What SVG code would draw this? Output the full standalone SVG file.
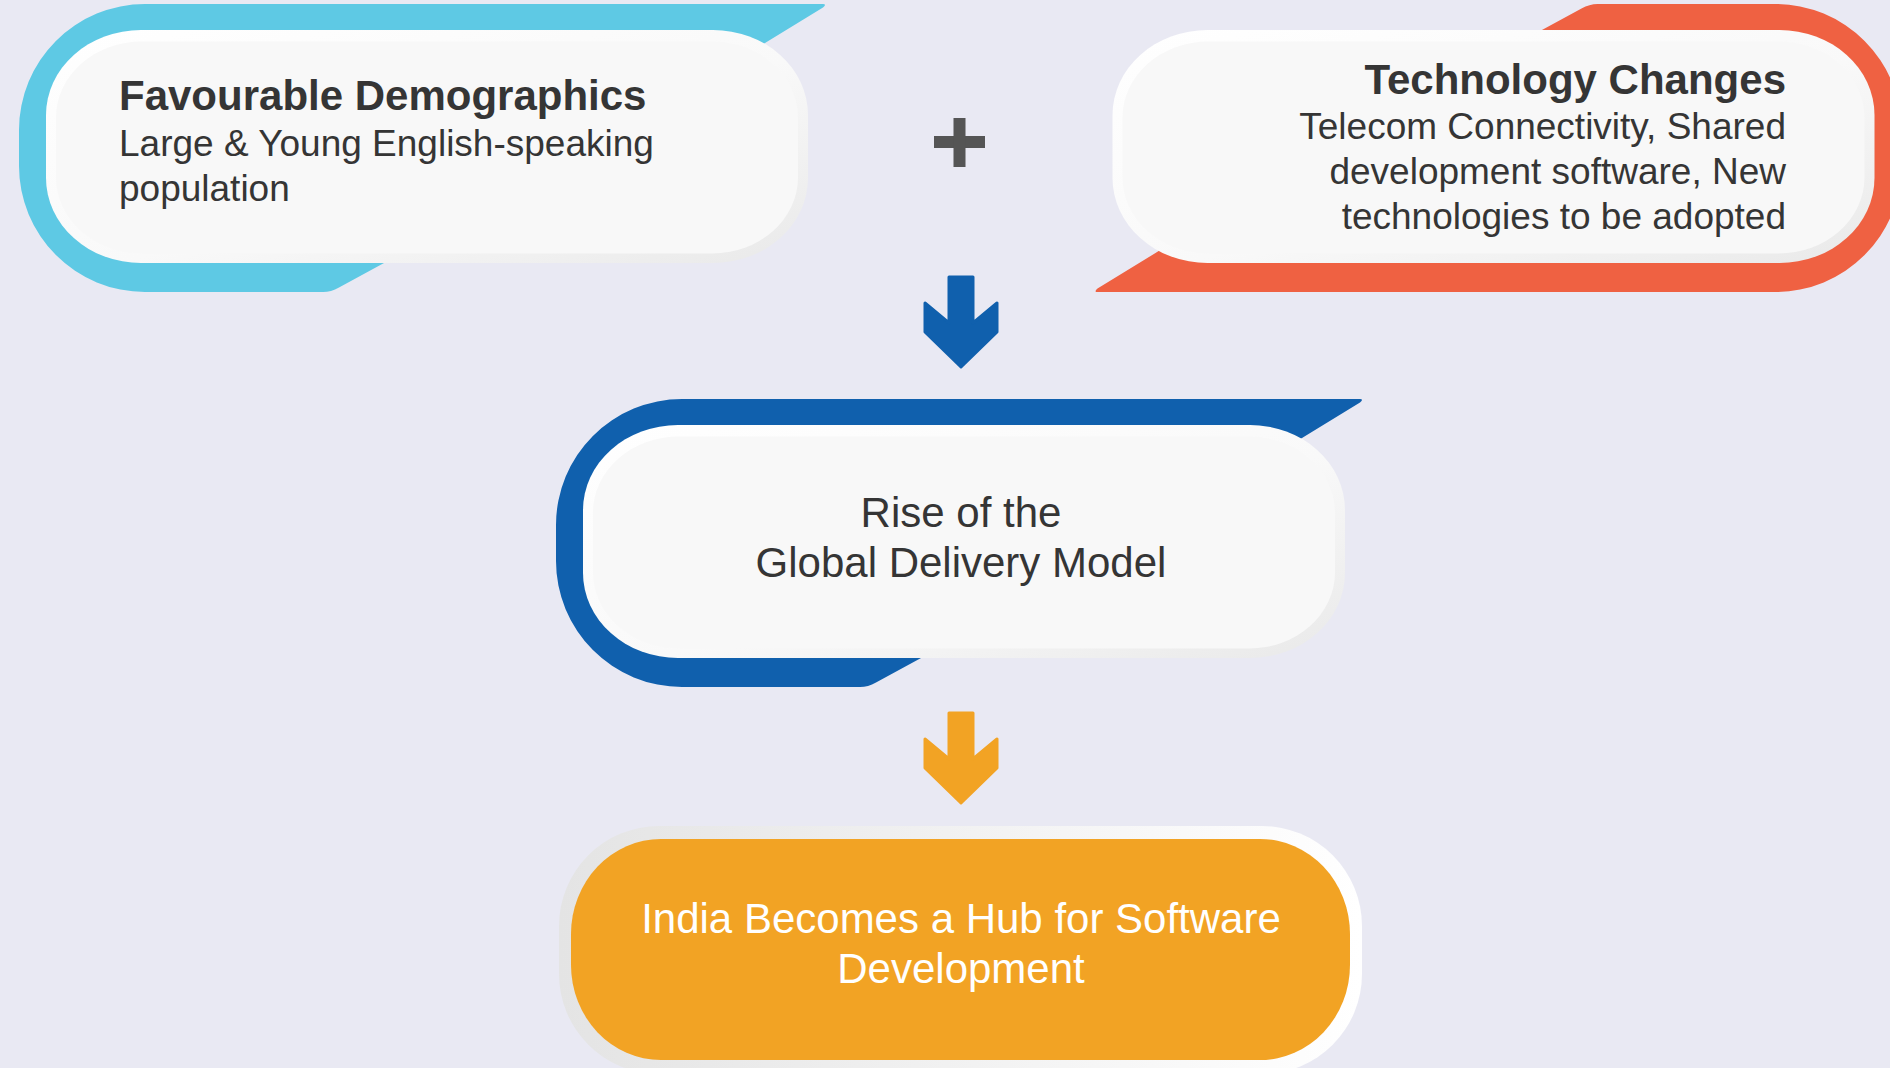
<svg xmlns="http://www.w3.org/2000/svg" xmlns:xlink="http://www.w3.org/1999/xlink" width="1890" height="1068" viewBox="0 0 1890 1068">
  <defs>
    <style>
      .title { font-family: "Liberation Sans", Arial, sans-serif; font-weight: bold; font-size: 42px; fill: #353535; }
      .sub { font-family: "Liberation Sans", Arial, sans-serif; font-size: 37px; fill: #353535; }
      .mid { font-family: "Liberation Sans", Arial, sans-serif; font-size: 42px; fill: #353535; text-anchor: middle; }
      .out { font-family: "Liberation Sans", Arial, sans-serif; font-size: 42px; fill: #ffffff; text-anchor: middle; }
    </style>
    <linearGradient id="bevel" x1="0" y1="0" x2="1" y2="1">
      <stop offset="0" stop-color="#ffffff"/>
      <stop offset="0.55" stop-color="#f9f9f9"/>
      <stop offset="1" stop-color="#e9e9e9"/>
    </linearGradient>
    <linearGradient id="ring" x1="0" y1="0" x2="1" y2="0">
      <stop offset="0" stop-color="#e4e4e4"/>
      <stop offset="1" stop-color="#ffffff"/>
    </linearGradient>
    <path id="badge" d="M 396,-142.5 L -282,-142.5 A 126,126 0 0 0 -408,-16.5 L -408,19.5 A 126,126 0 0 0 -282,145.5 L -104,145.5 Q -96,145.5 -88,141 L -20,104 L 300,-79 L 338,-103.5 L 396,-139 Q 400,-142.5 396,-142.5 Z"/>
    <g id="card">
      <rect x="-381" y="-116.5" width="762" height="233" rx="95" ry="85" fill="url(#bevel)"/>
      <rect x="-371" y="-105" width="742" height="212" rx="86" ry="76" fill="#f8f8f8"/>
    </g>
    <path id="arrow" d="M 949,277 L 973,277 L 973,323 L 997,303 L 997,332 L 961,367 L 925,332 L 925,303 L 949,323 Z" stroke-linejoin="round" stroke-width="3"/>
  </defs>

  <rect width="1890" height="1068" fill="#e9e9f3"/>

  <g id="node-demographics">
    <use xlink:href="#badge" href="#badge" transform="translate(427,146.5)" fill="#5ec9e4"/>
    <use xlink:href="#card" href="#card" transform="translate(427,146.5)"/>
    <text class="title" x="119" y="110">Favourable Demographics</text>
    <text class="sub" x="119" y="156">Large &amp; Young English-speaking</text>
    <text class="sub" x="119" y="201">population</text>
  </g>

  <g id="node-technology">
    <use xlink:href="#badge" href="#badge" transform="translate(1493.5,149.5) rotate(180)" fill="#ef6142"/>
    <use xlink:href="#card" href="#card" transform="translate(1493.5,146.5)"/>
    <text class="title" x="1786" y="94" text-anchor="end">Technology Changes</text>
    <text class="sub" x="1786" y="139" text-anchor="end">Telecom Connectivity, Shared</text>
    <text class="sub" x="1786" y="184" text-anchor="end">development software, New</text>
    <text class="sub" x="1786" y="229" text-anchor="end">technologies to be adopted</text>
  </g>

  <g id="node-gdm">
    <use xlink:href="#badge" href="#badge" transform="translate(964,541.5)" fill="#1060ad"/>
    <use xlink:href="#card" href="#card" transform="translate(964,541.5)"/>
    <text class="mid" x="961" y="527">Rise of the</text>
    <text class="mid" x="961" y="577">Global Delivery Model</text>
  </g>

  <g id="node-india">
    <rect x="559" y="826" width="803" height="248" rx="100" ry="100" fill="url(#ring)"/>
    <rect x="571" y="839" width="779" height="221" rx="90" ry="95" fill="#f2a324"/>
    <text class="out" x="961" y="933">India Becomes a Hub for Software</text>
    <text class="out" x="961" y="983">Development</text>
  </g>

  <g id="connectors">
    <g id="plus" fill="#555555">
      <rect x="934" y="136" width="51" height="12"/>
      <rect x="953.5" y="118" width="12" height="49"/>
    </g>
    <use xlink:href="#arrow" href="#arrow" fill="#1060ad" stroke="#1060ad"/>
    <use xlink:href="#arrow" href="#arrow" transform="translate(0,436)" fill="#f2a324" stroke="#f2a324"/>
  </g>
</svg>
